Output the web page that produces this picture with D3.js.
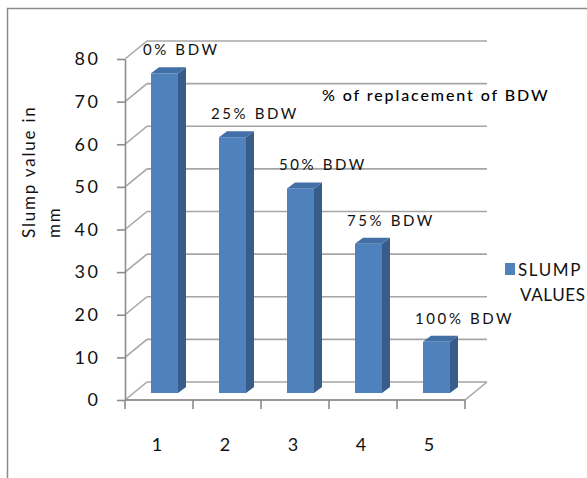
<!DOCTYPE html>
<html>
<head>
<meta charset="utf-8">
<script src="https://cdn.jsdelivr.net/npm/d3@7"></script>
<style>
  html, body { margin: 0; padding: 0; background: #fff; }
  svg { display: block; font-family: Lato, "Liberation Sans", sans-serif; }
</style>
</head>
<body>
<svg id="chart" width="587" height="478"></svg>
<script>
// Slump test results for each replacement level
const categories = ["1", "2", "3", "4", "5"];
const slumpValues = [75, 60, 48, 35, 12];
const barLabels = ["0% BDW", "25% BDW", "50% BDW", "75% BDW", "100% BDW"];
const yTicks = [0, 10, 20, 30, 40, 50, 60, 70, 80];
const seriesName = ["SLUMP", "VALUES"];
const yTitle = ["Slump value in", "mm"];
const chartTitle = "% of replacement of BDW";

const svg = d3.select("#chart");
const textColor = "#111";

// outer chart frame
svg.append("rect")
  .attr("x", 7.5).attr("y", 8.5)
  .attr("width", 620).attr("height", 500)
  .attr("fill", "none").attr("stroke", "#8c8c8c").attr("stroke-width", 1.5);

// front plane scales
const x = d3.scaleBand().domain(categories).range([125, 465]);
const y = d3.scaleLinear().domain([0, 80]).range([400, 59]);

// oblique depth of the floor / walls
const depth = { dx: 22, dy: -18 };
const gridColor = "#a6a6a6";

const g = svg.append("g");

// back wall gridlines
g.selectAll("line.back").data(yTicks).join("line")
  .attr("class", "back")
  .attr("x1", x.range()[0] + depth.dx).attr("x2", x.range()[1] + depth.dx)
  .attr("y1", d => y(d) + depth.dy).attr("y2", d => y(d) + depth.dy)
  .attr("stroke", gridColor).attr("stroke-width", 1.6);

// side wall gridlines
g.selectAll("line.side").data(yTicks).join("line")
  .attr("class", "side")
  .attr("x1", x.range()[0]).attr("x2", x.range()[0] + depth.dx)
  .attr("y1", d => y(d)).attr("y2", d => y(d) + depth.dy)
  .attr("stroke", gridColor).attr("stroke-width", 1.6);

// floor outline
const x0 = x.range()[0], x1 = x.range()[1], yb = y(0);
g.append("path")
  .attr("d", `M${x0},${yb} L${x1},${yb} L${x1 + depth.dx},${yb + depth.dy}`)
  .attr("fill", "none").attr("stroke", gridColor).attr("stroke-width", 1.6);

// y axis
const yAxis = d3.axisLeft(y).tickValues(yTicks).tickSize(8).tickSizeOuter(0).tickPadding(19);
const ya = svg.append("g").attr("transform", `translate(${x0},0)`).call(yAxis);
ya.select(".domain").attr("stroke", "#8c8c8c").attr("stroke-width", 1.6);
ya.selectAll(".tick line").attr("stroke", "#8c8c8c").attr("stroke-width", 1.6);
ya.selectAll(".tick text")
  .attr("font-size", 18).attr("fill", textColor)
  .attr("font-family", "Lato, sans-serif").attr("letter-spacing", 2.5)
  .attr("dx", 2.5);

// x axis baseline and category boundary ticks
const edges = categories.map(c => x(c)).concat([x1]);
svg.append("line")
  .attr("x1", x0).attr("x2", x1).attr("y1", yb).attr("y2", yb)
  .attr("stroke", "#8c8c8c").attr("stroke-width", 1.6);
svg.selectAll("line.xtick").data(edges).join("line")
  .attr("class", "xtick")
  .attr("x1", d => d).attr("x2", d => d)
  .attr("y1", yb).attr("y2", yb + 9)
  .attr("stroke", "#8c8c8c").attr("stroke-width", 1.6);
svg.selectAll("text.xlab").data(categories).join("text")
  .attr("class", "xlab")
  .attr("x", d => x(d) + x.bandwidth() / 2 - 2)
  .attr("y", 451)
  .attr("text-anchor", "middle")
  .attr("font-size", 18).attr("fill", textColor)
  .text(d => d);

// 3-D columns
const barW = 27, bdx = 8, bdy = -6;
const baseY = yb - 7;
const bars = categories.map((c, i) => {
  const left = x(c) + x.bandwidth() / 2 + 5.5 - barW / 2;
  const top = baseY - (yb - y(slumpValues[i]));
  return { c, v: slumpValues[i], label: barLabels[i], left, top };
});

const bg = svg.append("g");
bg.selectAll("rect.front").data(bars).join("rect")
  .attr("class", "front")
  .attr("x", d => d.left).attr("y", d => d.top)
  .attr("width", barW).attr("height", d => baseY - d.top)
  .attr("fill", "#4f81bd");
bg.selectAll("path.side").data(bars).join("path")
  .attr("class", "side")
  .attr("d", d => {
    const r = d.left + barW;
    return `M${r},${baseY} L${r + bdx},${baseY + bdy} L${r + bdx},${d.top + bdy} L${r},${d.top} Z`;
  })
  .attr("fill", "#385d8a");
bg.selectAll("path.top").data(bars).join("path")
  .attr("class", "top")
  .attr("d", d => `M${d.left},${d.top} L${d.left + bdx},${d.top + bdy} L${d.left + barW + bdx},${d.top + bdy} L${d.left + barW},${d.top} Z`)
  .attr("fill", "#426fa6");

// data labels
svg.selectAll("text.dlab").data(bars).join("text")
  .attr("class", "dlab")
  .attr("x", d => d.left - 8)
  .attr("y", d => d.top - 18)
  .attr("font-size", 15).attr("letter-spacing", 2.6).attr("fill", textColor)
  .text(d => d.label);

// chart title inside plot
svg.append("text")
  .attr("x", 322).attr("y", 101)
  .attr("font-size", 16).attr("letter-spacing", 1.9).attr("fill", "#000")
  .attr("font-weight", 500)
  .text(chartTitle);

// y axis title, two lines rotated
const yt = svg.append("text")
  .attr("transform", "translate(35,238) rotate(-90)")
  .attr("font-size", 17).attr("letter-spacing", 1.8).attr("fill", textColor);
yt.append("tspan").attr("x", 0).attr("y", 0).text(yTitle[0]);
yt.append("tspan").attr("x", 0).attr("y", 25).text(yTitle[1]);

// legend
svg.append("rect")
  .attr("x", 505).attr("y", 263).attr("width", 10).attr("height", 12)
  .attr("fill", "#4f81bd");
svg.append("text")
  .attr("x", 518).attr("y", 276)
  .attr("font-size", 17).attr("letter-spacing", 1.6).attr("fill", textColor)
  .text(seriesName[0]);
svg.append("text")
  .attr("x", 520).attr("y", 301)
  .attr("font-size", 17).attr("letter-spacing", 0.6).attr("fill", textColor)
  .text(seriesName[1]);
</script>
</body>
</html>
